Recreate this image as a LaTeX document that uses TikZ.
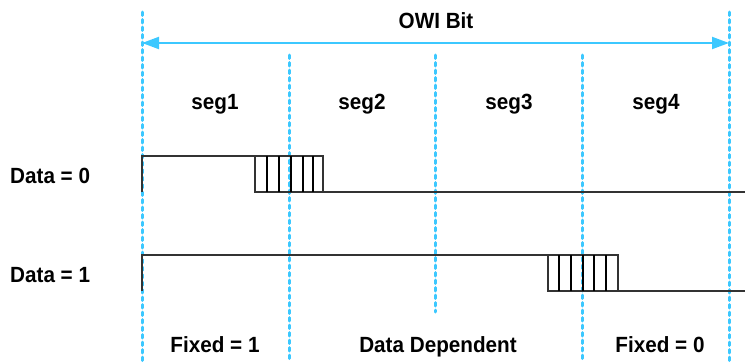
\documentclass[tikz,border=0pt]{standalone}
\usepackage{fontspec}
\setmainfont{Liberation Sans}[FakeStretch=0.94]
\usetikzlibrary{arrows.meta}
\definecolor{guide}{HTML}{3CC8FF}
\definecolor{wave}{HTML}{333333}
\tikzset{
  guideline/.style={draw=guide, line width=3pt, line cap=round, dash pattern=on 3.5pt off 4pt},
  span/.style={draw=guide, line width=2pt, {Triangle[length=17pt,width=12pt]}-{Triangle[length=17pt,width=12pt]}},
  lbl/.style={font=\bfseries\fontsize{22}{26}\selectfont, inner sep=0pt, anchor=base},
  sidelbl/.style={lbl, anchor=base west},
  signal/.style={draw=wave, line width=1.2pt},
  hatchbox/.style={draw=wave, line width=1.5pt},
  hatch/.style={draw=black, line width=2.4pt},
}
\begin{document}
\begin{tikzpicture}[x=1pt, y=-1pt]
\useasboundingbox (0,0) rectangle (745,362);

% segment boundaries
\coordinate (b0t) at (142,12);  \coordinate (b0b) at (142,362);
\coordinate (b1t) at (289,55);  \coordinate (b1b) at (289,362);
\coordinate (b2t) at (435,55);  \coordinate (b2b) at (435,312);
\coordinate (b3t) at (582,55);  \coordinate (b3b) at (582,362);
\coordinate (b4t) at (729,12);  \coordinate (b4b) at (729,362);
\foreach \i in {0,...,4} \draw[guideline] (b\i t) -- (b\i b);

% bit span
\coordinate (spanL) at (142,43);
\coordinate (spanR) at (729,43);
\draw[span] (spanL) -- (spanR);
\node[lbl] (owi) at (436,28) {OWI Bit};

% segment names
\node[lbl] (seg1) at (215,109) {seg1};
\node[lbl] (seg2) at (362,109) {seg2};
\node[lbl] (seg3) at (509,109) {seg3};
\node[lbl] (seg4) at (656,109) {seg4};

% row labels
\node[sidelbl] (d0) at (10,183) {Data = 0};
\node[sidelbl] (d1) at (10,282) {Data = 1};

% Data = 0 waveform
\draw[signal] (142,192) -- (142,156) -- (255,156);
\draw[signal] (323,192) -- (745,192);
\draw[hatchbox] (255,156) rectangle (323,192);
\foreach \x in {267,279,291,303,313} \draw[hatch] (\x,156) -- (\x,192);

% Data = 1 waveform
\draw[signal] (142,291) -- (142,255) -- (548,255);
\draw[signal] (618,291) -- (745,291);
\draw[hatchbox] (548,255) rectangle (618,291);
\foreach \x in {559,571,583,594,606} \draw[hatch] (\x,255) -- (\x,291);

% region names
\node[lbl] (fix1) at (215,352) {Fixed = 1};
\node[lbl] (dep) at (438,352) {Data Dependent};
\node[lbl] (fix0) at (660,352) {Fixed = 0};
\end{tikzpicture}
\end{document}
